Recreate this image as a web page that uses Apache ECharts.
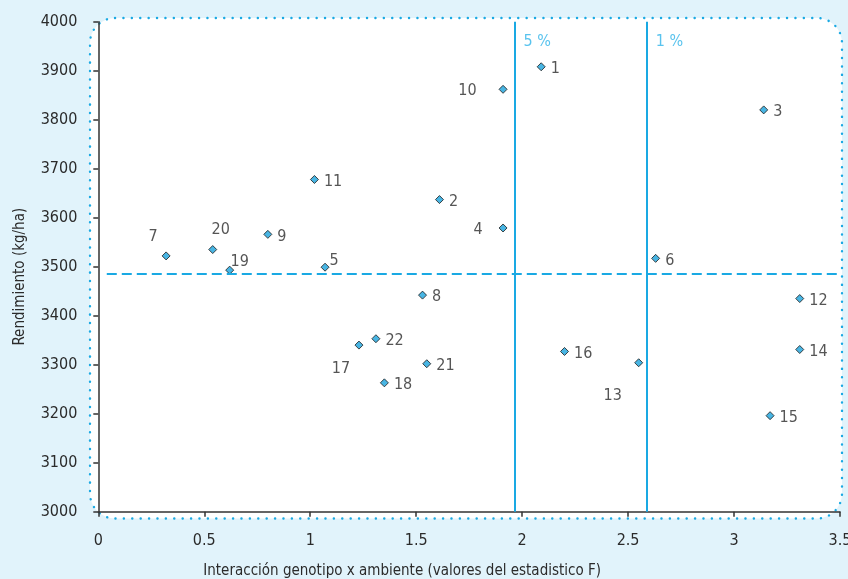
<!DOCTYPE html>
<html>
<head>
<meta charset="utf-8">
<script src="https://cdn.jsdelivr.net/npm/echarts@6/dist/echarts.min.js"></script>
<style>
html,body{margin:0;padding:0;background:#e1f3fb;}
#c{width:848px;height:579px;}
</style>
</head>
<body>
<div id="c"></div>
<script>
// Data
var genotypes = ['1','2','3','4','5','6','7','8','9','10','11','12','13','14','15','16','17','18','19','20','21','22'];
var interaccionF = [2.09,1.61,3.14,1.91,1.07,2.63,0.32,1.53,0.80,1.91,1.02,3.31,2.55,3.31,3.17,2.20,1.23,1.35,0.62,0.54,1.55,1.31];
var rendimiento = [3908,3637,3820,3579,3499,3517,3522,3442,3566,3862,3678,3435,3304,3331,3196,3327,3340,3263,3493,3535,3302,3353];
var rendimientoMedio = 3485;
var umbralNombres = ['5 %','1 %'];
var umbralF = [1.966, 2.59];
var xTicks = ['0','0.5','1','1.5','2','2.5','3','3.5'];
var yTicks = ['3000','3100','3200','3300','3400','3500','3600','3700','3800','3900','4000'];

// label placement (layout, not data)
var labelPlace = {
  '10': {position:'left', distance:22, offset:[0,2]},
  '4':  {position:'left', distance:16, offset:[0,2]},
  '7':  {position:'inside', offset:[-13,-19]},
  '20': {position:'inside', offset:[8,-20]},
  '17': {position:'inside', offset:[-18,24]},
  '13': {position:'inside', offset:[-26,33]},
  '19': {position:'inside', offset:[10,-8]},
  '5':  {position:'inside', offset:[9,-6]}
};

var FONT = '"Liberation Sans Narrow","DejaVu Sans Condensed","Liberation Sans",sans-serif';
var TXT = '#2b2b2b';
var BLUE = '#1aa9e3';

var points = genotypes.map(function(g,i){
  var p = labelPlace[g] || {position:'right', distance:5, offset:[0,2]};
  return {
    name:g,
    value:[interaccionF[i], rendimiento[i]],
    label:Object.assign({show:true, formatter:g}, p)
  };
});

var lines = [[{coord:[0.04, rendimientoMedio], lineStyle:{type:[10,5], width:2, color:BLUE}},
              {coord:[3.5, rendimientoMedio]}]];
umbralF.forEach(function(v){
  lines.push([{coord:[v,3000], lineStyle:{type:'solid', width:2, color:BLUE}},{coord:[v,4000]}]);
});

var chart = echarts.init(document.getElementById('c'), null, {renderer:'canvas'});
chart.setOption({
  backgroundColor:'#e1f3fb',
  animation:false,
  graphic:[{
    type:'rect', z:-10, silent:true,
    shape:{x:90, y:18, width:752, height:500.5, r:25},
    style:{fill:'#ffffff', stroke:BLUE, lineWidth:2.4, lineDash:[0.1,8.3], lineCap:'round'}
  }],
  grid:{left:98.3, right:8, top:21.7, bottom:67.3, containLabel:false, outerBoundsMode:'none'},
  xAxis:{
    type:'value', min:0, max:3.5, interval:0.5,
    name:'Interacción genotipo x ambiente (valores del estadistico F)',
    nameLocation:'middle', nameGap:52,
    nameTextStyle:{color:TXT, fontFamily:FONT, fontSize:15, padding:[0,134,0,0]},
    axisLine:{show:true, onZero:false, lineStyle:{color:'#333', width:1.5}},
    axisTick:{show:true, inside:false, length:5, lineStyle:{color:'#333', width:1.5}},
    axisLabel:{color:TXT, fontFamily:FONT, fontSize:16, margin:21,
      formatter:function(v){ return xTicks[Math.round(v/0.5)]; }},
    splitLine:{show:false}
  },
  yAxis:{
    type:'value', min:3000, max:4000, interval:100,
    name:'Rendimiento (kg/ha)',
    nameLocation:'middle', nameGap:71, nameRotate:90,
    nameTextStyle:{color:TXT, fontFamily:FONT, fontSize:15, padding:[0,20,0,0]},
    axisLine:{show:true, onZero:false, lineStyle:{color:'#333', width:1.5}},
    axisTick:{show:true, inside:false, length:5, lineStyle:{color:'#333', width:1.5}},
    axisLabel:{color:TXT, fontFamily:FONT, fontSize:16, margin:21,
      formatter:function(v){ return yTicks[Math.round((v-3000)/100)]; }},
    splitLine:{show:false}
  },
  series:[{
    type:'scatter',
    symbol:'diamond',
    symbolSize:[8,8],
    itemStyle:{color:'#1aa3dc', borderColor:'#1a1a1a', borderWidth:1},
    label:{color:TXT, fontFamily:FONT, fontSize:16},
    data:points,
    markLine:{
      silent:true, symbol:'none', animation:false,
      label:{show:false},
      data:lines
    }
  },{
    type:'scatter',
    symbol:'circle',
    symbolSize:1,
    silent:true,
    itemStyle:{color:'rgba(0,0,0,0)'},
    label:{show:true, position:'right', distance:0, offset:[8,20],
      color:'#2fb4ea', fontFamily:FONT, fontSize:16,
      formatter:function(p){ return umbralNombres[p.dataIndex]; }},
    data:umbralF.map(function(v){ return [v, 4000]; })
  }]
});
</script>
</body>
</html>
